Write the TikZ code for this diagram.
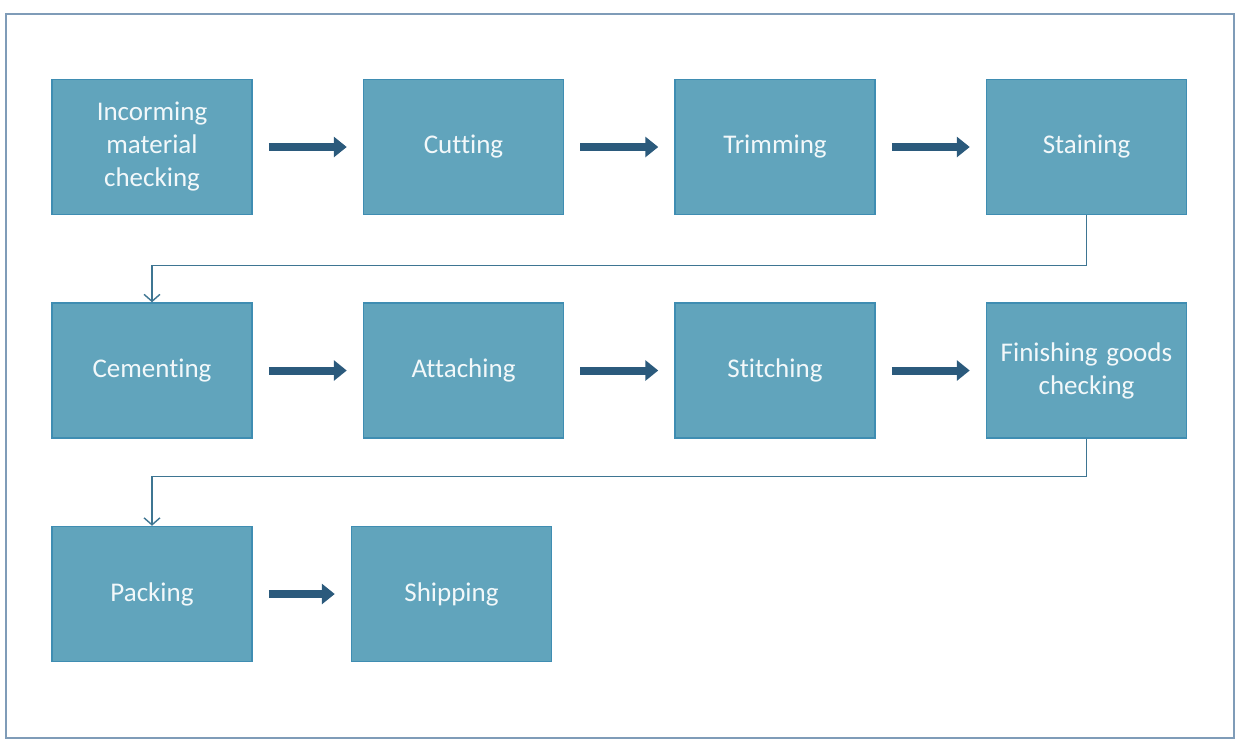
\documentclass[tikz,border=0pt]{standalone}
\usepackage{fontspec}
\setmainfont{Carlito}[Ligatures=CommonOff]
\usetikzlibrary{positioning,arrows.meta}
\definecolor{boxfill}{HTML}{61A4BC}
\definecolor{boxline}{HTML}{3F8DB2}
\definecolor{flowblue}{HTML}{2B5A7C}
\definecolor{backblue}{HTML}{3E7592}
\definecolor{framecol}{HTML}{7F9CB8}
\tikzset{node distance=87pt and 110pt, auto}

\begin{document}
\begin{tikzpicture}[x=1pt,y=-1pt,
    procbox/.style={draw=boxline, line width=1.5pt, fill=boxfill,
      minimum width=200pt, minimum height=135pt, text width=190pt,
      align=center, text=white!92!boxfill, font=\fontsize{27}{33}\selectfont},
    flow/.style={draw=flowblue, line width=8pt, shorten <=16pt, shorten >=16pt,
      -{Triangle[length=13pt,width=20pt]}},
    backline/.style={draw=backblue, line width=1.4pt,
      -{Straight Barb[length=7pt,width=16pt]}}]
  \useasboundingbox (0,0) rectangle (1239,740);
  \draw[framecol, line width=1.5pt] (6,14) rectangle (1234,738);

  % first row
  \node[procbox] (incoming) at (152,147) {Incorming\\material\\checking};
  \node[procbox] (cutting) [right=of incoming] {Cutting};
  \node[procbox] (trimming) [right=of cutting] {Trimming};
  \node[procbox] (staining) [right=of trimming] {Staining};

  % second row
  \node[procbox] (cementing) [below=of incoming] {Cementing};
  \node[procbox] (attaching) [right=of cementing] {Attaching};
  \node[procbox] (stitching) [right=of attaching] {Stitching};
  \node[procbox] (finishing) [right=of stitching] {Finishing goods\\checking};

  % third row
  \node[procbox] (packing) [below=of cementing] {Packing};
  \node[procbox] (shipping) [right=98pt of packing] {Shipping};

  \draw[flow] (incoming) -- (cutting);
  \draw[flow] (cutting) -- (trimming);
  \draw[flow] (trimming) -- (staining);
  \draw[flow] (cementing) -- (attaching);
  \draw[flow] (attaching) -- (stitching);
  \draw[flow] (stitching) -- (finishing);
  \draw[flow] (packing) -- (shipping);

  \draw[backline] (staining.south) -- ++(0,50) -| (cementing.north);
  \draw[backline] (finishing.south) -- ++(0,38) -| (packing.north);
\end{tikzpicture}
\end{document}
